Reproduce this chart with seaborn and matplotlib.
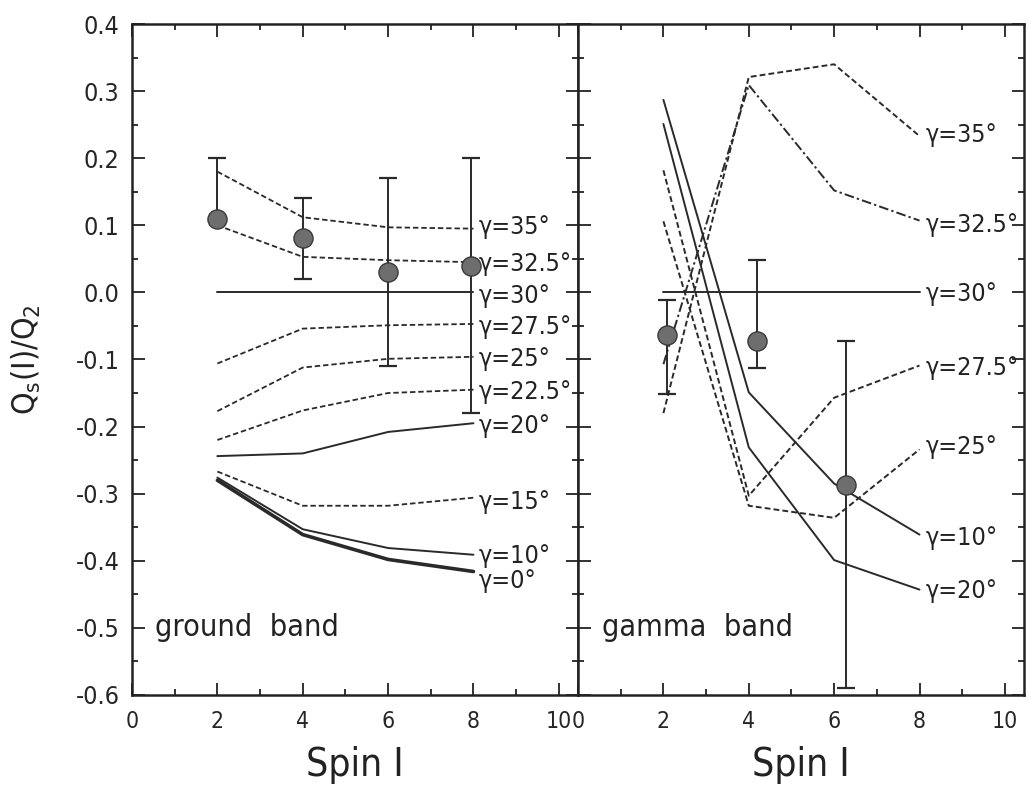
import numpy as np
import pandas as pd
import matplotlib
matplotlib.use("Agg")
import matplotlib.pyplot as plt
from matplotlib.ticker import MultipleLocator, FormatStrFormatter
import seaborn as sns

# ---------------- data ----------------
spin = [2, 4, 6, 8]

# ground band model curves (gamma in degrees)
gb_labels = ["γ=35°", "γ=32.5°", "γ=30°", "γ=27.5°", "γ=25°", "γ=22.5°",
             "γ=20°", "γ=15°", "γ=10°", "γ=0°"]
gb_35 = [0.180, 0.112, 0.097, 0.095]
gb_325 = [0.100, 0.053, 0.048, 0.045]
gb_30 = [0.0, 0.0, 0.0, 0.0]
gb_275 = [-0.106, -0.054, -0.049, -0.047]
gb_25 = [-0.177, -0.112, -0.099, -0.096]
gb_225 = [-0.220, -0.176, -0.150, -0.145]
gb_20 = [-0.244, -0.240, -0.208, -0.195]
gb_15 = [-0.267, -0.318, -0.318, -0.306]
gb_10 = [-0.276, -0.353, -0.381, -0.391]
gb_0 = [-0.280, -0.361, -0.398, -0.416]
gb_label_y = [0.097, 0.042, -0.005, -0.052, -0.100, -0.149, -0.199, -0.313, -0.393, -0.430]

# gamma band model curves
gm_labels = ["γ=35°", "γ=32.5°", "γ=30°", "γ=27.5°", "γ=25°", "γ=20°", "γ=10°"]
gm_35 = [-0.180, 0.321, 0.340, 0.233]
gm_325 = [-0.107, 0.309, 0.152, 0.107]
gm_30 = [0.0, 0.0, 0.0, 0.0]
gm_275 = [0.182, -0.303, -0.157, -0.109]
gm_25 = [0.106, -0.318, -0.336, -0.234]
gm_20 = [0.251, -0.231, -0.399, -0.443]
gm_10 = [0.287, -0.149, -0.285, -0.361]
gm_label_y = [0.234, 0.101, -0.003, -0.112, -0.231, -0.445, -0.366]

# experimental points
gb_exp_x = [2.0, 4.0, 6.0, 7.95]
gb_exp_y = [0.110, 0.081, 0.030, 0.040]
gb_exp_hi = [0.200, 0.140, 0.170, 0.200]
gb_exp_lo = [0.110, 0.020, -0.110, -0.180]

gm_exp_x = [2.08, 4.20, 6.28]
gm_exp_y = [-0.063, -0.072, -0.287]
gm_exp_hi = [-0.012, 0.049, -0.072]
gm_exp_lo = [-0.152, -0.112, -0.589]

yticks = [-0.6, -0.5, -0.4, -0.3, -0.2, -0.1, 0.0, 0.1, 0.2, 0.3, 0.4]
xticks = [0, 2, 4, 6, 8, 10]

# ---------------- style ----------------
sns.set_theme(style="ticks")
plt.rcParams["font.family"] = ["DejaVu Sans"]
plt.rcParams["font.stretch"] = "condensed"
plt.rcParams["axes.unicode_minus"] = False
plt.rcParams["mathtext.fontset"] = "dejavusans"

LC = "#2a2a2a"
TC = "#222222"
DASH = (3.0, 1.6)
DASHDOT = (5.0, 1.6, 1.2, 1.6)

fig = plt.figure(figsize=(10.28, 7.90), dpi=100)
axL = fig.add_axes([0.1284, 0.1203, 0.4339, 0.8493])
axR = fig.add_axes([0.5623, 0.1203, 0.4339, 0.8493])


def curve(ax, yvals, dashes=None, lw=1.3):
    df = pd.DataFrame({"spin": spin, "q": yvals})
    line = sns.lineplot(data=df, x="spin", y="q", ax=ax, color=LC, linewidth=lw).lines[-1]
    if dashes is not None:
        line.set_dashes(dashes)
    return line


# ground band
gb_series = [gb_35, gb_325, gb_30, gb_275, gb_25, gb_225, gb_20, gb_15, gb_10, gb_0]
gb_styles = [DASH, DASH, None, DASH, DASH, DASH, None, DASH, None, None]
gb_lw = [1.3, 1.3, 1.4, 1.3, 1.3, 1.3, 1.4, 1.3, 1.4, 2.6]
for ys, st, lw in zip(gb_series, gb_styles, gb_lw):
    curve(axL, ys, st, lw)
for lab, ly in zip(gb_labels, gb_label_y):
    axL.text(8.12, ly, lab, fontsize=18, va="center", ha="left", color=TC)

# gamma band
gm_series = [gm_35, gm_325, gm_30, gm_275, gm_25, gm_20, gm_10]
gm_styles = [DASH, DASHDOT, None, DASH, DASH, None, None]
for ys, st in zip(gm_series, gm_styles):
    curve(axR, ys, st, 1.4)
for lab, ly in zip(gm_labels, gm_label_y):
    axR.text(8.15, ly, lab, fontsize=18, va="center", ha="left", color=TC)


def experiment(ax, xs, ys, hi, lo):
    ys = np.array(ys)
    yerr = [ys - np.array(lo), np.array(hi) - ys]
    ax.errorbar(xs, ys, yerr=yerr, fmt="none", ecolor=LC, elinewidth=1.4,
                capsize=6.5, capthick=1.6, zorder=3)
    sns.scatterplot(x=xs, y=ys, ax=ax, s=190, color="#6e6e6e",
                    edgecolor="#3a3a3a", linewidth=1.0, zorder=4, legend=False)


experiment(axL, gb_exp_x, gb_exp_y, gb_exp_hi, gb_exp_lo)
experiment(axR, gm_exp_x, gm_exp_y, gm_exp_hi, gm_exp_lo)

axL.text(0.55, -0.50, "ground  band", fontsize=22, va="center", ha="left", color=TC)
axR.text(0.55, -0.50, "gamma  band", fontsize=22, va="center", ha="left", color=TC)

for ax in (axL, axR):
    ax.set_xlim(0, 10.45)
    ax.set_ylim(-0.6, 0.4)
    ax.set_xticks(xticks)
    ax.set_yticks(yticks)
    ax.xaxis.set_minor_locator(MultipleLocator(1))
    ax.yaxis.set_minor_locator(MultipleLocator(0.05))
    ax.yaxis.set_major_formatter(FormatStrFormatter("%.1f"))
    ax.tick_params(which="both", direction="in", top=True, right=True,
                   color=TC, width=1.3)
    ax.tick_params(which="major", length=9)
    ax.tick_params(which="minor", length=4.5)
    ax.tick_params(axis="x", which="major", labelsize=16.5, pad=11)
    ax.tick_params(axis="y", which="major", labelsize=18, pad=9)
    for sp in ax.spines.values():
        sp.set_linewidth(1.8)
        sp.set_color(TC)
    ax.set_xlabel("Spin I", fontsize=28, labelpad=9, color=TC)
    ax.set_ylabel("")

axR.tick_params(axis="y", labelleft=False)
axL.set_ylabel(r"Q$_\mathregular{s}$(I)/Q$_2$", fontsize=23, color=TC)
axL.yaxis.set_label_coords(-0.2, 0.5)

fig.savefig("out.png", dpi=100, facecolor="white")
